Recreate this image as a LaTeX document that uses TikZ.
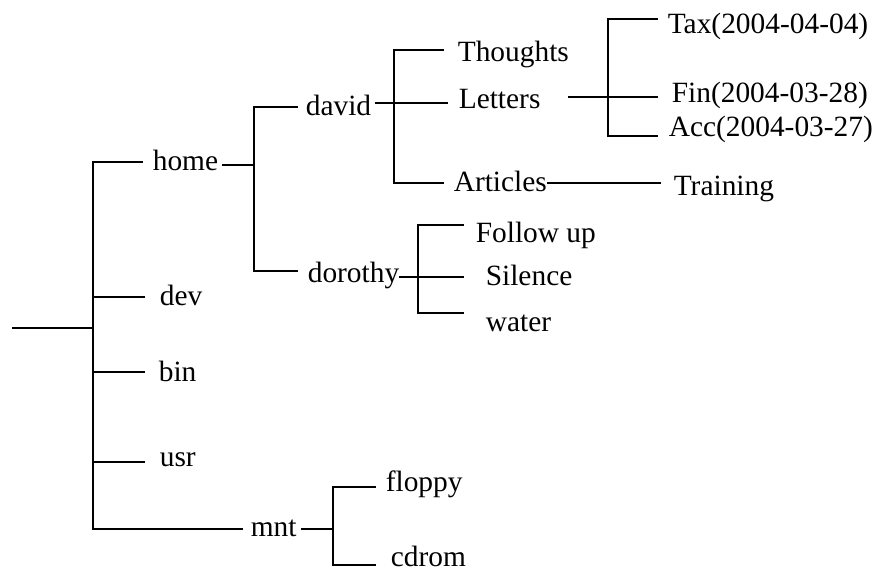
\documentclass[tikz,border=0pt]{standalone}
\usepackage{fontspec}
\setmainfont{Liberation Serif}
\usepackage{tikz}
\usetikzlibrary{positioning}
\tikzstyle{dir}=[anchor=base west, inner sep=0pt, font=\fontsize{29.4}{34}\selectfont]
\tikzstyle{branch}=[line width=1.6pt, line cap=rect]

\begin{document}
\begin{tikzpicture}[x=1pt, y=-1pt, every path/.style={branch}]
  \useasboundingbox (0,0) rectangle (883,572);

  % directory names
  \node[dir] (home) at (152,171) {home};
  \node[dir] (dev) at (159,305) {dev};
  \node[dir] (bin) at (158,381) {bin};
  \node[dir] (usr) at (159,466) {usr};
  \node[dir] (mnt) at (250,536) {mnt};
  \node[dir] (david) at (305,116) {david};
  \node[dir] (dorothy) at (307,282) {dorothy};
  \node[dir] (thoughts) at (457,62) {Thoughts};
  \node[dir] (letters) at (458,109) {Letters};
  \node[dir] (articles) at (453,192) {Articles};
  \node[dir] (training) at (673,196) {Training};
  \node[dir] (tax) at (667,34) {Tax(2004-04-04)};
  \node[dir] (fin) at (671,103) {Fin(2004-03-28)};
  \node[dir] (acc) at (668,137) {Acc(2004-03-27)};
  \node[dir] (follow) at (475,242) {Follow up};
  \node[dir] (silence) at (485,285) {Silence};
  \node[dir] (water) at (485,331) {water};
  \node[dir] (floppy) at (385,491) {floppy};
  \node[dir] (cdrom) at (390,566) {cdrom};

  % line ends and forks
  \coordinate (root) at (13,328);
  \coordinate (trunk) at (93,328);
  \coordinate (home-in) at (142,162);
  \coordinate (dev-in) at (144,297);
  \coordinate (bin-in) at (144,372);
  \coordinate (usr-in) at (144,462);
  \coordinate (mnt-in) at (242,529);
  \coordinate (home-out) at (223,165);
  \coordinate (home-fk) at (254,165);
  \coordinate (david-in) at (297,107);
  \coordinate (dorothy-in) at (297,271);
  \coordinate (david-out) at (376,103);
  \coordinate (david-fk) at (394,103);
  \coordinate (thoughts-in) at (443,50);
  \coordinate (letters-in) at (447,103);
  \coordinate (articles-in) at (443,183);
  \coordinate (articles-out) at (548,183);
  \coordinate (training-in) at (660,183);
  \coordinate (letters-out) at (569,97);
  \coordinate (letters-fk) at (608,97);
  \coordinate (tax-in) at (657,19);
  \coordinate (fin-in) at (657,97);
  \coordinate (acc-in) at (657,136);
  \coordinate (dorothy-out) at (400,277);
  \coordinate (dorothy-fk) at (418,277);
  \coordinate (follow-in) at (463,225);
  \coordinate (silence-in) at (463,277);
  \coordinate (water-in) at (463,313);
  \coordinate (mnt-out) at (302,529);
  \coordinate (mnt-fk) at (333,529);
  \coordinate (floppy-in) at (375,487);
  \coordinate (cdrom-in) at (375,565);

  % root
  \draw (root) -- (trunk);
  \draw (home-in) -| (trunk) |- (mnt-in);
  \foreach \d in {dev,bin,usr}
    \draw (trunk |- \d-in) -- (\d-in);

  % home
  \draw (home-out) -- (home-fk);
  \draw (david-in) -| (home-fk) |- (dorothy-in);

  % david
  \draw (david-out) -- (letters-in);
  \draw (thoughts-in) -| (david-fk) |- (articles-in);
  \draw (articles-out) -- (training-in);
  \draw (letters-out) -- (fin-in);
  \draw (tax-in) -| (letters-fk) |- (acc-in);

  % dorothy
  \draw (dorothy-out) -- (silence-in);
  \draw (follow-in) -| (dorothy-fk) |- (water-in);

  % mnt
  \draw (mnt-out) -- (mnt-fk);
  \draw (floppy-in) -| (mnt-fk) |- (cdrom-in);
\end{tikzpicture}
\end{document}
